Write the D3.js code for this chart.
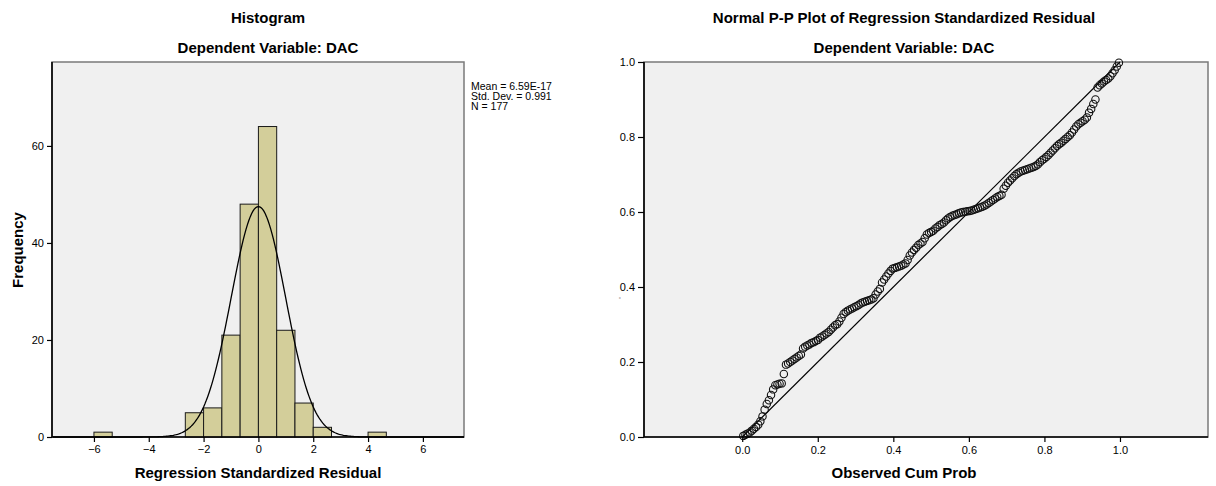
<!DOCTYPE html>
<html>
<head>
<meta charset="utf-8">
<script src="https://cdn.jsdelivr.net/npm/d3@7"></script>
<style>
  body { margin: 0; background: #fff; }
  svg text { font-family: "Liberation Sans", Arial, sans-serif; }
</style>
</head>
<body>
<div id="chart"></div>
<script>
// histogram bins (lower edge, upper edge, count)
var binLo = [-6, -8 / 3, -2, -4 / 3, -2 / 3, 0, 2 / 3, 4 / 3, 2, 4];
var binHi = [-16 / 3, -2, -4 / 3, -2 / 3, 0, 2 / 3, 4 / 3, 2, 8 / 3, 14 / 3];
var binCount = [1, 5, 6, 21, 48, 64, 22, 7, 2, 1];
var histXTicks = [-6, -4, -2, 0, 2, 4, 6];
var histYTicks = [0, 20, 40, 60];
var statMean = 6.59e-17, statSd = 0.991, statN = 177;
var statLines = ["Mean = 6.59E-17", "Std. Dev. = 0.991", "N = 177"];

// P-P plot: expected cum prob of each sorted residual (rank order)
var ppExpected = [
  0.003, 0.006, 0.009, 0.012, 0.017, 0.022, 0.027, 0.033, 0.042, 0.055,
  0.073, 0.088, 0.098, 0.112, 0.127, 0.138, 0.140, 0.142, 0.143, 0.168,
  0.193, 0.196, 0.200, 0.204, 0.208, 0.212, 0.216, 0.220, 0.236, 0.241,
  0.244, 0.247, 0.251, 0.253, 0.256, 0.259, 0.265, 0.268, 0.272, 0.276,
  0.280, 0.286, 0.292, 0.298, 0.301, 0.308, 0.318, 0.328, 0.333, 0.337,
  0.340, 0.343, 0.346, 0.349, 0.352, 0.356, 0.359, 0.361, 0.363, 0.365,
  0.367, 0.370, 0.380, 0.388, 0.395, 0.412, 0.420, 0.428, 0.436, 0.443,
  0.449, 0.451, 0.453, 0.455, 0.457, 0.460, 0.463, 0.472, 0.484, 0.492,
  0.499, 0.505, 0.512, 0.516, 0.520, 0.530, 0.540, 0.544, 0.547, 0.550,
  0.556, 0.560, 0.565, 0.568, 0.572, 0.578, 0.583, 0.587, 0.590, 0.592,
  0.594, 0.597, 0.599, 0.600, 0.601, 0.602, 0.603, 0.604, 0.606, 0.608,
  0.610, 0.612, 0.614, 0.617, 0.620, 0.624, 0.628, 0.632, 0.636, 0.640,
  0.643, 0.646, 0.662, 0.670, 0.678, 0.684, 0.690, 0.696, 0.701, 0.705,
  0.708, 0.710, 0.712, 0.714, 0.716, 0.718, 0.720, 0.723, 0.727, 0.733,
  0.738, 0.742, 0.747, 0.752, 0.758, 0.764, 0.770, 0.776, 0.781, 0.785,
  0.790, 0.795, 0.800, 0.805, 0.812, 0.820, 0.828, 0.834, 0.838, 0.842,
  0.846, 0.852, 0.865, 0.875, 0.888, 0.900, 0.932, 0.938, 0.943, 0.948,
  0.952, 0.956, 0.962, 0.970, 0.978, 0.988, 0.998
];
var ppTicks = [0, 0.2, 0.4, 0.6, 0.8, 1.0];

var svg = d3.select("#chart").append("svg")
    .attr("width", 1216)
    .attr("height", 486);

// ---------- Histogram ----------
var h = { left: 52, right: 464, top: 62, bottom: 437 };
var hx = d3.scaleLinear().domain([-7.53, 7.5]).range([h.left, h.right]);
var hy = d3.scaleLinear().domain([0, 77.3]).range([h.bottom, h.top]);

svg.append("rect")
    .attr("x", h.left).attr("y", h.top)
    .attr("width", h.right - h.left).attr("height", h.bottom - h.top)
    .attr("fill", "#f0f0f0")
    .attr("stroke", "#7a7a7a")
    .attr("stroke-width", 1.5);

var bins = binCount.map(function (c, i) { return { lo: binLo[i], hi: binHi[i], n: c }; });
svg.selectAll(".bar")
    .data(bins)
    .enter().append("rect")
    .attr("class", "bar")
    .attr("x", function (d) { return hx(d.lo); })
    .attr("y", function (d) { return hy(d.n); })
    .attr("width", function (d) { return hx(d.hi) - hx(d.lo); })
    .attr("height", function (d) { return hy(0) - hy(d.n); })
    .attr("fill", "#d3ce9a")
    .attr("stroke", "#1a1a1a")
    .attr("stroke-width", 1);

// normal curve scaled to counts
var binW = 2 / 3;
var curveX = d3.range(-7.5, 7.5001, 0.05);
var normal = d3.line()
    .x(function (d) { return hx(d); })
    .y(function (d) {
        var z = (d - statMean) / statSd;
        return hy(statN * binW * Math.exp(-0.5 * z * z) / (statSd * Math.sqrt(2 * Math.PI)));
    });
svg.append("path")
    .datum(curveX)
    .attr("d", normal)
    .attr("fill", "none")
    .attr("stroke", "#000")
    .attr("stroke-width", 1.3);

var hxAxis = svg.append("g")
    .attr("transform", "translate(0," + h.bottom + ")")
    .call(d3.axisBottom(hx).tickValues(histXTicks).tickSize(5).tickFormat(d3.format("d")));
var hyAxis = svg.append("g")
    .attr("transform", "translate(" + h.left + ",0)")
    .call(d3.axisLeft(hy).tickValues(histYTicks).tickSize(5));

[hxAxis, hyAxis].forEach(function (ax) {
    ax.select(".domain").attr("stroke", "#000").attr("stroke-width", 1.6);
    ax.selectAll(".tick line").attr("stroke", "#000").attr("stroke-width", 1.2);
    ax.selectAll(".tick text").attr("font-size", 11).attr("fill", "#000")
        .attr("font-family", "Liberation Sans, Arial, sans-serif");
});
hxAxis.select(".domain").attr("d", "M" + h.left + ",0H" + h.right);
hyAxis.select(".domain").attr("d", "M0," + h.top + "V" + h.bottom);

svg.append("text").attr("x", 268).attr("y", 23)
    .attr("text-anchor", "middle").attr("font-size", 15).attr("font-weight", "bold")
    .text("Histogram");
svg.append("text").attr("x", 268).attr("y", 53)
    .attr("text-anchor", "middle").attr("font-size", 15).attr("font-weight", "bold")
    .text("Dependent Variable: DAC");
svg.append("text").attr("x", 258).attr("y", 478)
    .attr("text-anchor", "middle").attr("font-size", 15).attr("font-weight", "bold")
    .text("Regression Standardized Residual");
svg.append("text")
    .attr("transform", "translate(23,250) rotate(-90)")
    .attr("text-anchor", "middle").attr("font-size", 15).attr("font-weight", "bold")
    .text("Frequency");

svg.selectAll(".stat")
    .data(statLines)
    .enter().append("text")
    .attr("class", "stat")
    .attr("x", 471)
    .attr("y", function (d, i) { return 90 + i * 10.2; })
    .attr("font-size", 10.5)
    .text(function (d) { return d; });

// ---------- P-P plot ----------
var p = { left: 644, right: 1208, top: 62, bottom: 437 };
var px = d3.scaleLinear().domain([-0.26, 1.233]).range([p.left, p.right]);
var py = d3.scaleLinear().domain([0, 1]).range([p.bottom, p.top]);

svg.append("rect")
    .attr("x", p.left).attr("y", p.top)
    .attr("width", p.right - p.left).attr("height", p.bottom - p.top)
    .attr("fill", "#f0f0f0")
    .attr("stroke", "#7a7a7a")
    .attr("stroke-width", 1.5);

svg.append("line")
    .attr("x1", px(0)).attr("y1", py(0))
    .attr("x2", px(1)).attr("y2", py(1))
    .attr("stroke", "#000").attr("stroke-width", 1.2);

var nPts = ppExpected.length;
svg.selectAll(".pt")
    .data(ppExpected)
    .enter().append("circle")
    .attr("class", "pt")
    .attr("cx", function (d, i) { return px((i + 0.5) / nPts); })
    .attr("cy", function (d) { return py(d); })
    .attr("r", 3.7)
    .attr("fill", "none")
    .attr("stroke", "#111")
    .attr("stroke-width", 1.1);

var pxAxis = svg.append("g")
    .attr("transform", "translate(0," + p.bottom + ")")
    .call(d3.axisBottom(px).tickValues(ppTicks).tickSize(5).tickPadding(4).tickFormat(d3.format(".1f")));
var pyAxis = svg.append("g")
    .attr("transform", "translate(" + p.left + ",0)")
    .call(d3.axisLeft(py).tickValues(ppTicks).tickSize(6).tickFormat(d3.format(".1f")));

[pxAxis, pyAxis].forEach(function (ax) {
    ax.select(".domain").attr("stroke", "#000").attr("stroke-width", 1.6);
    ax.selectAll(".tick line").attr("stroke", "#000").attr("stroke-width", 1.2);
    ax.selectAll(".tick text").attr("font-size", 11).attr("fill", "#000")
        .attr("font-family", "Liberation Sans, Arial, sans-serif");
});
pxAxis.select(".domain").attr("d", "M" + p.left + ",0H" + p.right);
pyAxis.select(".domain").attr("d", "M0," + p.top + "V" + p.bottom);

svg.append("text").attr("x", 904).attr("y", 23)
    .attr("text-anchor", "middle").attr("font-size", 15).attr("font-weight", "bold")
    .text("Normal P-P Plot of Regression Standardized Residual");
svg.append("text").attr("x", 904).attr("y", 53)
    .attr("text-anchor", "middle").attr("font-size", 15).attr("font-weight", "bold")
    .text("Dependent Variable: DAC");
svg.append("text").attr("x", 904).attr("y", 478)
    .attr("text-anchor", "middle").attr("font-size", 15).attr("font-weight", "bold")
    .text("Observed Cum Prob");
svg.append("text")
    .attr("transform", "translate(624,298) rotate(-90)")
    .attr("text-anchor", "middle").attr("font-size", 8)
    .text("'");
</script>
</body>
</html>
